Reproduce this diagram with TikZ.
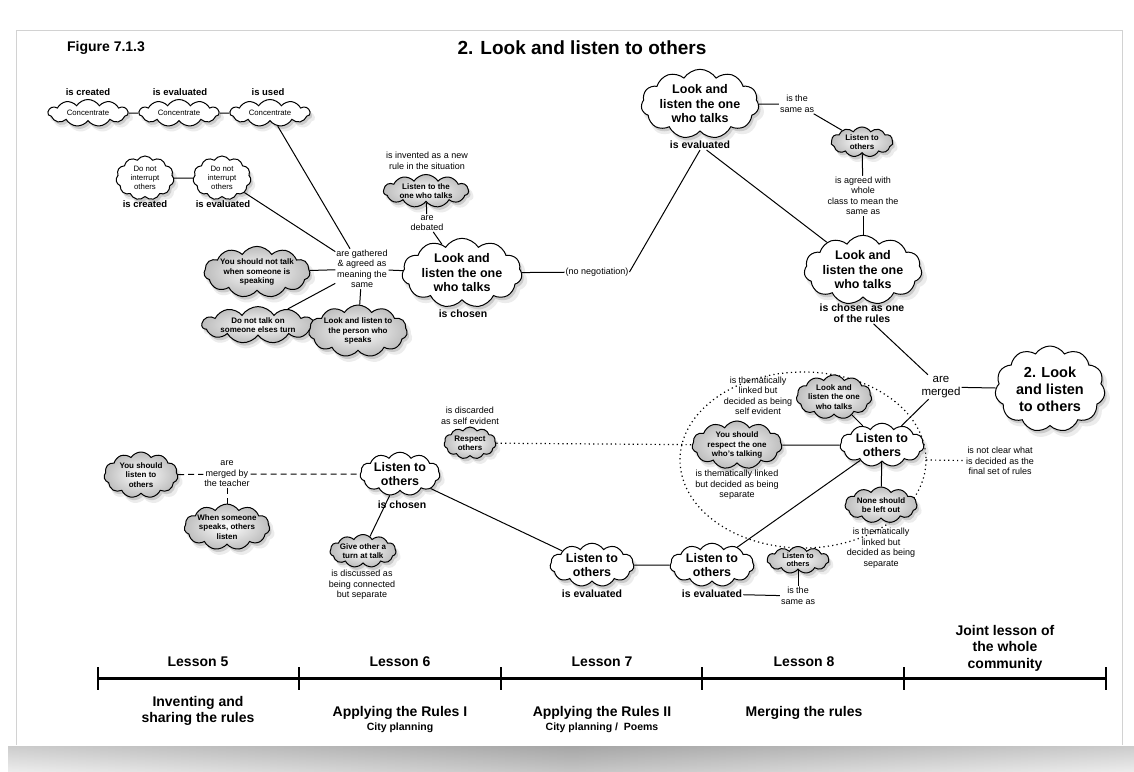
\documentclass[tikz,border=0pt]{standalone}
\usepackage{fontspec}
\setmainfont{Liberation Sans}
\usetikzlibrary{shapes.symbols,shapes.geometric,shadows}
\tikzset{
  cmcloud/.style={cloud, cloud puffs=11, cloud puff arc=115, cloud ignores aspect, draw=black,
                  line width=1pt, fill=white, align=center, inner sep=0pt,
                  drop shadow={opacity=0.15, shadow xshift=3.5pt, shadow yshift=-5pt, shadow scale=1.03},
                  drop shadow={opacity=0.3, shadow xshift=2pt, shadow yshift=-3pt},
                  font=\fontsize{12.5}{14.5}\selectfont\bfseries},
  cmcloudgray/.style={cmcloud, inner color=white, outer color=gray!52,
                  font=\fontsize{8}{9.2}\selectfont\bfseries},
  cmcloudthin/.style={cmcloud, font=\fontsize{7.8}{9}\selectfont},
  cmlabel/.style={align=center, inner sep=1pt, font=\fontsize{9}{10.5}\selectfont},
  cmlabelbold/.style={cmlabel, font=\fontsize{10.5}{11.5}\selectfont\bfseries},
  cmlink/.style={line width=1pt},
  cmlinkdashed/.style={cmlink, dash pattern=on 6pt off 4pt},
  cmlinkdotted/.style={line width=1.2pt, dash pattern=on 1.2pt off 3.2pt},
  cmlesson/.style={align=center, font=\fontsize{14}{16.5}\selectfont\bfseries},
  cmsub/.style={align=center, font=\fontsize{10.5}{12}\selectfont\bfseries},
}

\begin{document}
\begin{tikzpicture}[x=1pt, y=-1pt]
        \useasboundingbox (0,0) rectangle (1134,771);
        % ---------------- folha ----------------
        \fill[white] (0,0) rectangle (1134,771);
        \shade[top color=gray!80, bottom color=gray!30] (8,746) rectangle (1134,771);
        \shade[left color=white, right color=white, middle color=gray!60, opacity=0.5] (8,746) rectangle (1134,771);
        \draw[gray!35, line width=0.8pt] (16,745) -- (16,30) -- (1122,30) -- (1122,745);
        \node[font=\fontsize{14}{16}\selectfont\bfseries] (figno) at (106,48) {Figure 7.1.3};
        \node[font=\fontsize{19}{22}\selectfont\bfseries] (title) at (582,48) {2. Look and listen to others};
        % ---------------- lesson 5: inventar ----------------
        \node[cmcloudthin, minimum width=80, minimum height=27] (conc1) at (88,113) {Concentrate};
        \node[cmcloudthin, minimum width=80, minimum height=27] (conc2) at (179,113) {Concentrate};
        \node[cmcloudthin, minimum width=80, minimum height=27] (conc3) at (270,113) {Concentrate};
        \node[cmlabelbold, font=\fontsize{9.5}{11}\selectfont\bfseries] (created1) at (88,92) {is created};
        \node[cmlabelbold, font=\fontsize{9.5}{11}\selectfont\bfseries] (evaluated1) at (180,92) {is evaluated};
        \node[cmlabelbold, font=\fontsize{9.5}{11}\selectfont\bfseries] (used1) at (268,92) {is used};
        \node[cmcloudthin, minimum width=58, minimum height=44] (dni1) at (145,178) {Do not\\ interrupt\\ others};
        \node[cmcloudthin, minimum width=58, minimum height=44] (dni2) at (222,178) {Do not\\ interrupt\\ others};
        \node[cmlabelbold, font=\fontsize{9.5}{11}\selectfont\bfseries] (created2) at (145,204) {is created};
        \node[cmlabelbold, font=\fontsize{9.5}{11}\selectfont\bfseries] (evaluated2) at (223,204) {is evaluated};
        \node[cmlabel] (gathered) at (362,269) {are gathered\\ \& agreed as\\ meaning the\\ same};
        \node[cmcloudgray, minimum width=106, minimum height=42] (ysnt) at (257,272) {You should not talk\\ when someone is\\ speaking};
        \node[cmcloudgray, minimum width=112, minimum height=36] (dnto) at (258,325) {Do not talk on\\ someone elses turn};
        \node[cmcloudgray, minimum width=80, minimum height=52] (lalp) at (358,331) {Look and listen to\\ the person who\\ speaks};
        \node[cmlabel] (invented) at (427,161) {is invented as a new\\ rule in the situation};
        \node[cmcloudgray, minimum width=85, minimum height=33] (ltot) at (426,191) {Listen to the\\ one who talks};
        \node[cmlabel] (debated) at (427,223) {are\\ debated};
        \node[cmcloud, minimum width=120, minimum height=62] (lalo1) at (462,273) {Look and\\ listen the one\\ who talks};
        \node[cmlabelbold] (chosen1) at (463,314) {is chosen};
        \node[cmlabel] (noneg) at (597,272) {(no negotiation)};
        % ---------------- avaliacao e escolha ----------------
        \node[cmcloud, minimum width=108, minimum height=58] (lalo2) at (700,104) {Look and\\ listen the one\\ who talks};
        \node[cmlabelbold] (ev3) at (700,145) {is evaluated};
        \node[cmlabel] (sameas1) at (797,104) {is the\\ same as};
        \node[cmcloudgray, minimum width=62, minimum height=30] (lto1) at (862,142) {Listen to\\ others};
        \node[cmlabel] (agreed) at (863,196) {is agreed with\\ whole\\ class to mean the\\ same as};
        \node[cmcloud, minimum width=112, minimum height=62] (lalo3) at (863,270) {Look and\\ listen the one\\ who talks};
        \node[cmlabelbold] (chosenrules) at (862,313) {is chosen as one\\ of the rules};
        \node[cmlabel, font=\fontsize{11.5}{13.5}\selectfont] (merged) at (941,387) {are\\ merged};
        \node[cmcloud, minimum width=110, minimum height=86, font=\fontsize{14.5}{17}\selectfont\bfseries] (final) at (1050,389) {2. Look\\ and listen\\ to others};
        % ---------------- lesson 8: juntar ----------------
        \node[ellipse, draw=none, minimum width=246, minimum height=176] (mergering) at (803,460) {};
        \draw[cmlinkdotted] (mergering.center) ellipse (123 and 88);
        \node[cmlabel] (selfev) at (758,396) {is thematically\\ linked but\\ decided as being\\ self evident};
        \node[cmcloudgray, minimum width=74, minimum height=38] (lalo4) at (834,397) {Look and\\ listen the one\\ who talks};
        \node[cmcloud, minimum width=84, minimum height=40] (lto2) at (882,445) {Listen to\\ others};
        \node[cmcloudgray, minimum width=90, minimum height=36] (ysr) at (737,445) {You should\\ respect the one\\ who's talking};
        \node[cmlabel] (sep1) at (737,485) {is thematically linked\\ but decided as being\\ separate};
        \node[cmcloudgray, minimum width=72, minimum height=36] (nsblo) at (881,505) {None should\\ be left out};
        \node[cmlabel] (sep2) at (881,548) {is thematically\\ linked but\\ decided as being\\ separate};
        \node[cmlabel] (notclear) at (1000,461) {is not clear what\\ is decided as the\\ final set of rules};
        \node[cmlabel] (discarded) at (470,416) {is discarded\\ as self evident};
        \node[cmcloudgray, minimum width=52, minimum height=32] (respect) at (470,443) {Respect\\ others};
        % ---------------- lesson 6 e 7 ----------------
        \node[cmcloudgray, minimum width=74, minimum height=46] (ysl) at (141,475) {You should\\ listen to\\ others};
        \node[cmlabel] (mergedby) at (227,474) {are\\ merged by\\ the teacher};
        \node[cmcloudgray, minimum width=80, minimum height=44] (wsso) at (227,527) {When someone\\ speaks, others\\ listen};
        \node[cmcloud, minimum width=80, minimum height=42] (lto3) at (400,474) {Listen to\\ others};
        \node[cmlabelbold] (chosen2) at (402,505) {is chosen};
        \node[cmcloudgray, minimum width=62, minimum height=33] (gotl) at (363,551) {Give other a\\ turn at talk};
        \node[cmlabel] (discussed) at (362,585) {is discussed as\\ being connected\\ but separate};
        \node[cmcloud, minimum width=84, minimum height=38] (lto4) at (592,565) {Listen to\\ others};
        \node[cmlabelbold] (ev4) at (592,594) {is evaluated};
        \node[cmcloud, minimum width=84, minimum height=38] (lto5) at (712,565) {Listen to\\ others};
        \node[cmlabelbold] (ev5) at (712,594) {is evaluated};
        \node[cmcloudgray, minimum width=62, minimum height=27, font=\fontsize{7.5}{8.6}\selectfont\bfseries] (lto6) at (798,560) {Listen to\\ others};
        \node[cmlabel] (sameas2) at (798,596) {is the\\ same as};
        % ---------------- linha do tempo ----------------
        \foreach \t/\x in {0/98,1/299,2/501,3/702,4/904,5/1106}
          \coordinate (t\t) at (\x,678);
        \draw[line width=3pt] (t0) -- (t5);
        \foreach \t in {0,...,5}
          \draw[line width=2pt] ([yshift=11pt]t\t) -- ([yshift=-12pt]t\t);
        \node[cmlesson] (l5) at (198,662) {Lesson 5};
        \node[cmlesson] (l6) at (400,662) {Lesson 6};
        \node[cmlesson] (l7) at (602,662) {Lesson 7};
        \node[cmlesson] (l8) at (804,662) {Lesson 8};
        \node[cmlesson] (joint) at (1005,648) {Joint lesson of\\ the whole\\ community};
        \node[cmlesson] (l5sub) at (198,711) {Inventing and\\ sharing the rules};
        \node[cmlesson] (l6sub) at (400,713) {Applying the Rules I};
        \node[cmsub] (l6city) at (400,728) {City planning};
        \node[cmlesson] (l7sub) at (602,713) {Applying the Rules II};
        \node[cmsub] (l7city) at (602,728) {City planning /\ \ Poems};
        \node[cmlesson] (l8sub) at (804,713) {Merging the rules};
        % ---------------- ligacoes ----------------
        \draw[cmlink] (conc1) -- (conc2);
        \draw[cmlink] (conc2) -- (conc3);
        \draw[cmlink] (conc3) -- (gathered);
        \draw[cmlink] (dni1) -- (dni2);
        \draw[cmlink] (dni2) -- (gathered);
        \draw[cmlink] (ysnt) -- (gathered);
        \draw[cmlink] (dnto) -- (gathered);
        \draw[cmlink] (lalp) -- (gathered);
        \draw[cmlink] (gathered) -- (lalo1);
        \draw[cmlink] (ltot) -- (debated);
        \draw[cmlink] (debated) -- (lalo1);
        \draw[cmlink] (lalo1) -- (noneg);
        \draw[cmlink] (noneg.east) -- (ev3.south);
        \draw[cmlink] (lalo2) -- (sameas1);
        \draw[cmlink] (sameas1) -- (lto1);
        \draw[cmlink] (lto1) -- (agreed);
        \draw[cmlink] (agreed) -- (lalo3);
        \draw[cmlink] (ev3) -- (lalo3);
        \draw[cmlink] (chosenrules) -- (merged);
        \draw[cmlink] (merged) -- (final);
        \draw[cmlink] (lto2) -- (merged);
        \draw[cmlink] (lto2) -- (lalo4);
        \draw[cmlink] (lto2) -- (ysr);
        \draw[cmlink] (lto2) -- (nsblo);
        \draw[cmlink] (lto2) -- (lto5);
        \draw[cmlink] (lto3) -- (lto4);
        \draw[cmlink] (lto3) -- (gotl);
        \draw[cmlink] (lto4) -- (lto5);
        \draw[cmlink] (ev5) -- (sameas2);
        \draw[cmlink] (lto6) -- (sameas2);
        \draw[cmlinkdashed] (ysl) -- (mergedby);
        \draw[cmlinkdashed] (mergedby) -- (lto3);
        \draw[cmlinkdashed] (mergedby) -- (wsso);
        \draw[cmlinkdotted] (respect) -- (ysr);
        \draw[cmlinkdotted] (mergering.east) -- (notclear);
    \end{tikzpicture}
\end{document}
